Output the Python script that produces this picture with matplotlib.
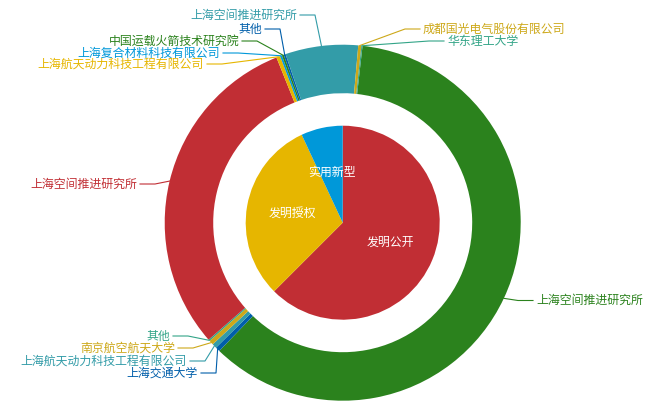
import numpy as np
import matplotlib.pyplot as plt

plt.rcParams['font.family'] = ['Noto Sans CJK SC', 'DejaVu Sans']

# inner ring: patent type
inner_labels = ['发明公开', '发明授权', '实用新型']
inner_values = [180, 88, 20]
inner_colors = ['#c12e34', '#e6b600', '#0098d9']

# outer ring: applicants inside each type
outer_labels = ['上海空间推进研究所', '上海交通大学', '上海航天动力科技工程有限公司', '南京航空航天大学', '其他',
                '上海空间推进研究所', '上海航天动力科技工程有限公司', '上海复合材料科技有限公司', '中国运载火箭技术研究院', '其他',
                '上海空间推进研究所', '成都国光电气股份有限公司', '华东理工大学']
outer_values = [174, 1.2, 1.2, 1.2, 0.4,
                87.4, 1.0, 0.5, 0.5, 0.5,
                19, 0.8, 0.3]
outer_colors = ['#2b821d', '#005eaa', '#339ca8', '#cda819', '#32a487',
                '#c12e34', '#e6b600', '#0098d9', '#2b821d', '#005eaa',
                '#339ca8', '#cda819', '#32a487']

# label placement in pixels (label y, elbow x) - layout only
label_pos = [(300.5, 518), (373, 216), (361, 205), (348, 193), (336, 188),
             (184, 155), (64, 222), (53, 238), (41, 257), (29, 280),
             (15, 315), (29, 405), (41, 429)]

W, H = 659, 418
CX, CY = 342.7, 222.7
R_IN, R_OUT, RING_W = 97, 178, 48.5
FS = 8.6


def px(x, y):
    return x - CX, CY - y


fig = plt.figure(figsize=(W / 100, H / 100), dpi=100)
ax = fig.add_axes([0, 0, 1, 1])

wi, _ = ax.pie(inner_values, colors=inner_colors, radius=R_IN, startangle=90,
               counterclock=False, wedgeprops=dict(linewidth=0))
wo, _ = ax.pie(outer_values, colors=outer_colors, radius=R_OUT, startangle=83.6,
               counterclock=False, wedgeprops=dict(width=RING_W, linewidth=0))

for w, lab in zip(wi, inner_labels):
    mid = np.deg2rad((w.theta1 + w.theta2) / 2)
    r = 0.53 * R_IN
    ax.text(r * np.cos(mid), r * np.sin(mid), lab, color='white',
            ha='center', va='center', fontsize=FS)

for w, lab, c, (ly, ex) in zip(wo, outer_labels, outer_colors, label_pos):
    mid = np.deg2rad((w.theta1 + w.theta2) / 2)
    x0, y0 = R_OUT * np.cos(mid), R_OUT * np.sin(mid)
    ex_d, ey_d = px(ex, ly)
    side = 1 if np.cos(mid) > 0 else -1
    x2 = ex_d + side * 15
    ax.plot([x0, ex_d, x2], [y0, ey_d, ey_d], color=c, lw=0.8)
    ax.text(x2 + side * 3, ey_d, lab, color=c, fontsize=FS,
            ha='left' if side > 0 else 'right', va='center')

ax.set_xlim(-CX, W - CX)
ax.set_ylim(CY - H, CY)
ax.set_aspect('auto')
ax.axis('off')

fig.savefig('out.png', dpi=100, facecolor='white')
